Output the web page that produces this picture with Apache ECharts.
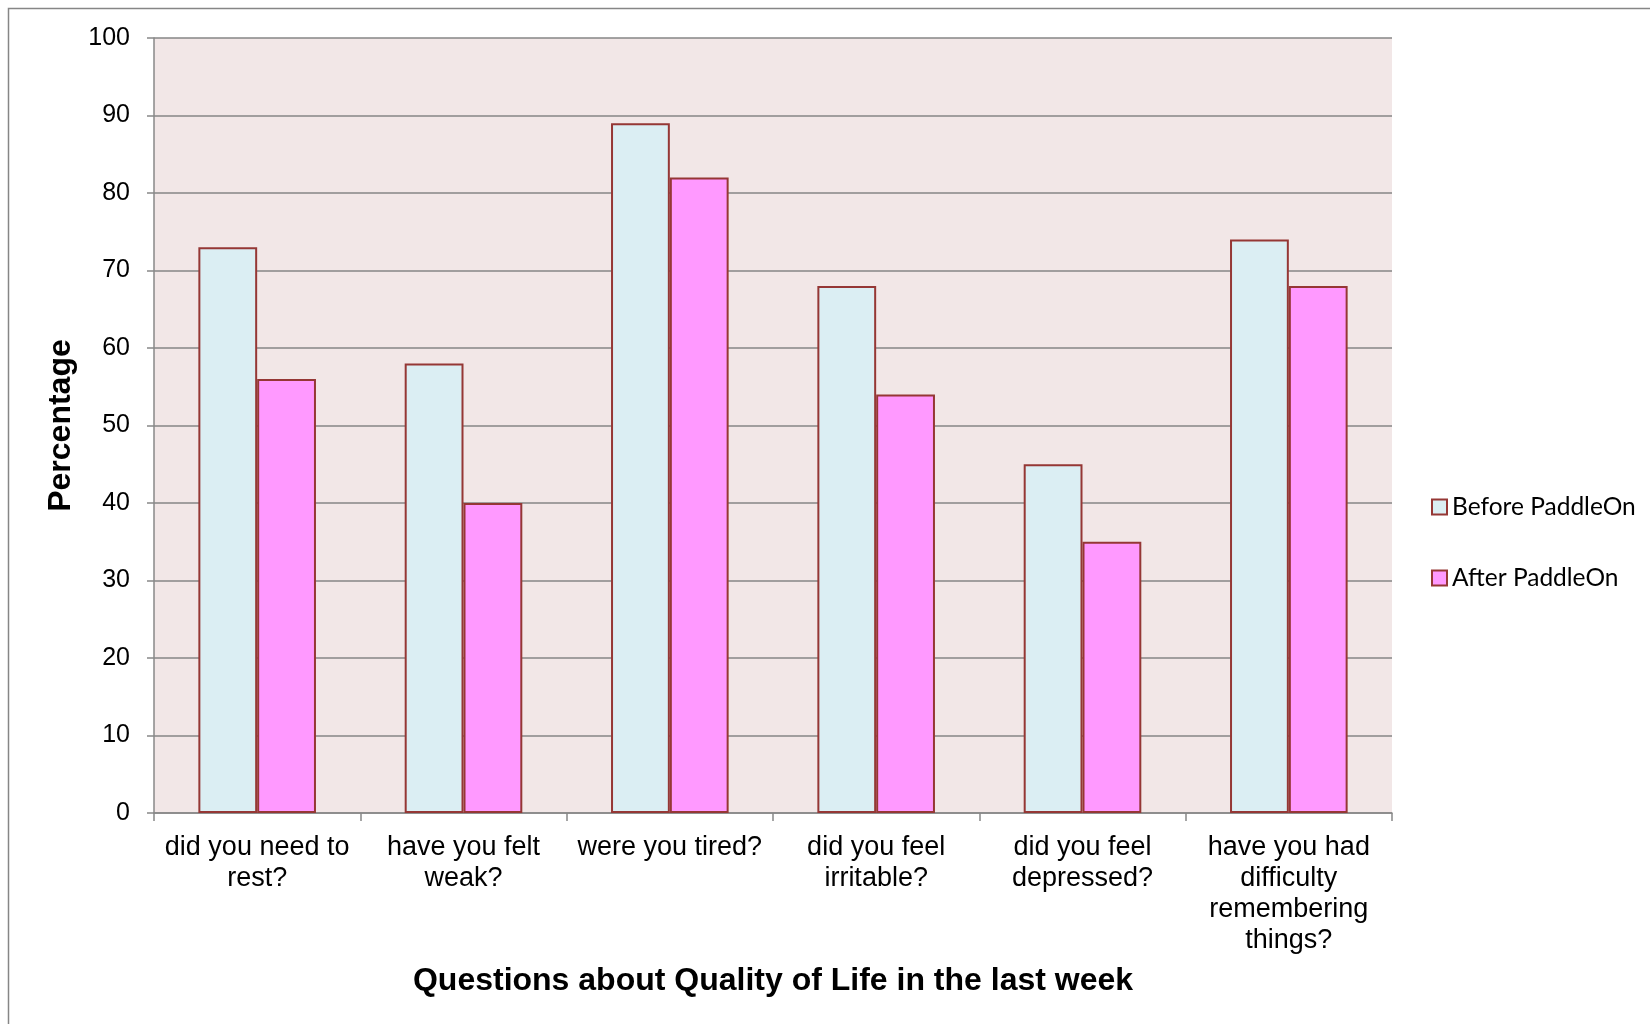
<!DOCTYPE html>
<html>
<head>
<meta charset="utf-8">
<script src="https://cdn.jsdelivr.net/npm/echarts@6/dist/echarts.min.js"></script>
<style>
  html, body { margin: 0; padding: 0; background: #fff; }
  #chart1 { width: 1650px; height: 1024px; }
</style>
</head>
<body>
<div id="chart1"></div>
<script>
// datos
const categorias = [
    'did you need to\nrest?',
    'have you felt\nweak?',
    'were you tired?',
    'did you feel\nirritable?',
    'did you feel\ndepressed?',
    'have you had\ndifficulty\nremembering\nthings?'
];
const antes = [73, 58, 89, 68, 45, 74];
const despues = [56, 40, 82, 54, 35, 68];
const nombresSeries = ['Before PaddleOn', 'After PaddleOn'];

let chart1;

function initCharts() {
    chart1 = echarts.init(document.getElementById('chart1'));

    let option = {
        animation: false,
        backgroundColor: '#ffffff',
        graphic: [
            {
                type: 'rect',
                shape: { x: 8.5, y: 8.5, width: 1800, height: 1200 },
                style: { fill: 'none', stroke: '#868686', lineWidth: 1.5 },
                silent: true
            }
        ],
        grid: {
            left: 154,
            top: 38,
            right: 258,
            bottom: 211,
            show: true,
            backgroundColor: '#F2E7E7',
            borderWidth: 0
        },
        legend: {
            orient: 'vertical',
            left: 1426,
            top: 489,
            itemWidth: 15,
            itemHeight: 15,
            itemGap: 45,
            icon: 'rect',
            textStyle: {
                fontFamily: 'Lato',
                fontSize: 24.5,
                lineHeight: 26,
                color: '#000'
            },
            data: nombresSeries
        },
        xAxis: {
            type: 'category',
            data: categorias,
            name: 'Questions about Quality of Life in the last week',
            nameLocation: 'middle',
            nameGap: 152,
            nameTextStyle: {
                fontFamily: 'Liberation Sans',
                fontSize: 32,
                fontWeight: 'bold',
                color: '#000'
            },
            axisLine: { lineStyle: { color: '#888888', width: 1.5 } },
            axisTick: { show: true, length: 8, lineStyle: { color: '#888888', width: 1.5 } },
            axisLabel: {
                interval: 0,
                margin: 19,
                fontFamily: 'Liberation Sans',
                fontSize: 27,
                lineHeight: 31,
                color: '#000'
            }
        },
        yAxis: {
            type: 'value',
            min: 0,
            max: 100,
            interval: 10,
            name: 'Percentage',
            nameLocation: 'middle',
            nameGap: 73,
            nameTextStyle: {
                fontFamily: 'Liberation Sans',
                fontSize: 32,
                fontWeight: 'bold',
                color: '#000'
            },
            axisLine: { show: true, lineStyle: { color: '#888888', width: 1.5 } },
            axisTick: { show: true, length: 7, lineStyle: { color: '#888888', width: 1.5 } },
            axisLabel: {
                margin: 24,
                fontFamily: 'Liberation Sans',
                fontSize: 25,
                color: '#000'
            },
            splitLine: { lineStyle: { color: '#868686', width: 1.5 } }
        },
        series: [
            {
                name: nombresSeries[0],
                type: 'bar',
                data: antes,
                barGap: '0%',
                barCategoryGap: '43%',
                itemStyle: {
                    color: '#DBEEF3',
                    borderColor: '#953735',
                    borderWidth: 2
                }
            },
            {
                name: nombresSeries[1],
                type: 'bar',
                data: despues,
                barGap: '0%',
                barCategoryGap: '43%',
                itemStyle: {
                    color: '#FF99FF',
                    borderColor: '#953735',
                    borderWidth: 2
                }
            }
        ]
    };

    chart1.setOption(option);
}

initCharts();

window.addEventListener('resize', function () {
    chart1.resize();
});
</script>
</body>
</html>
